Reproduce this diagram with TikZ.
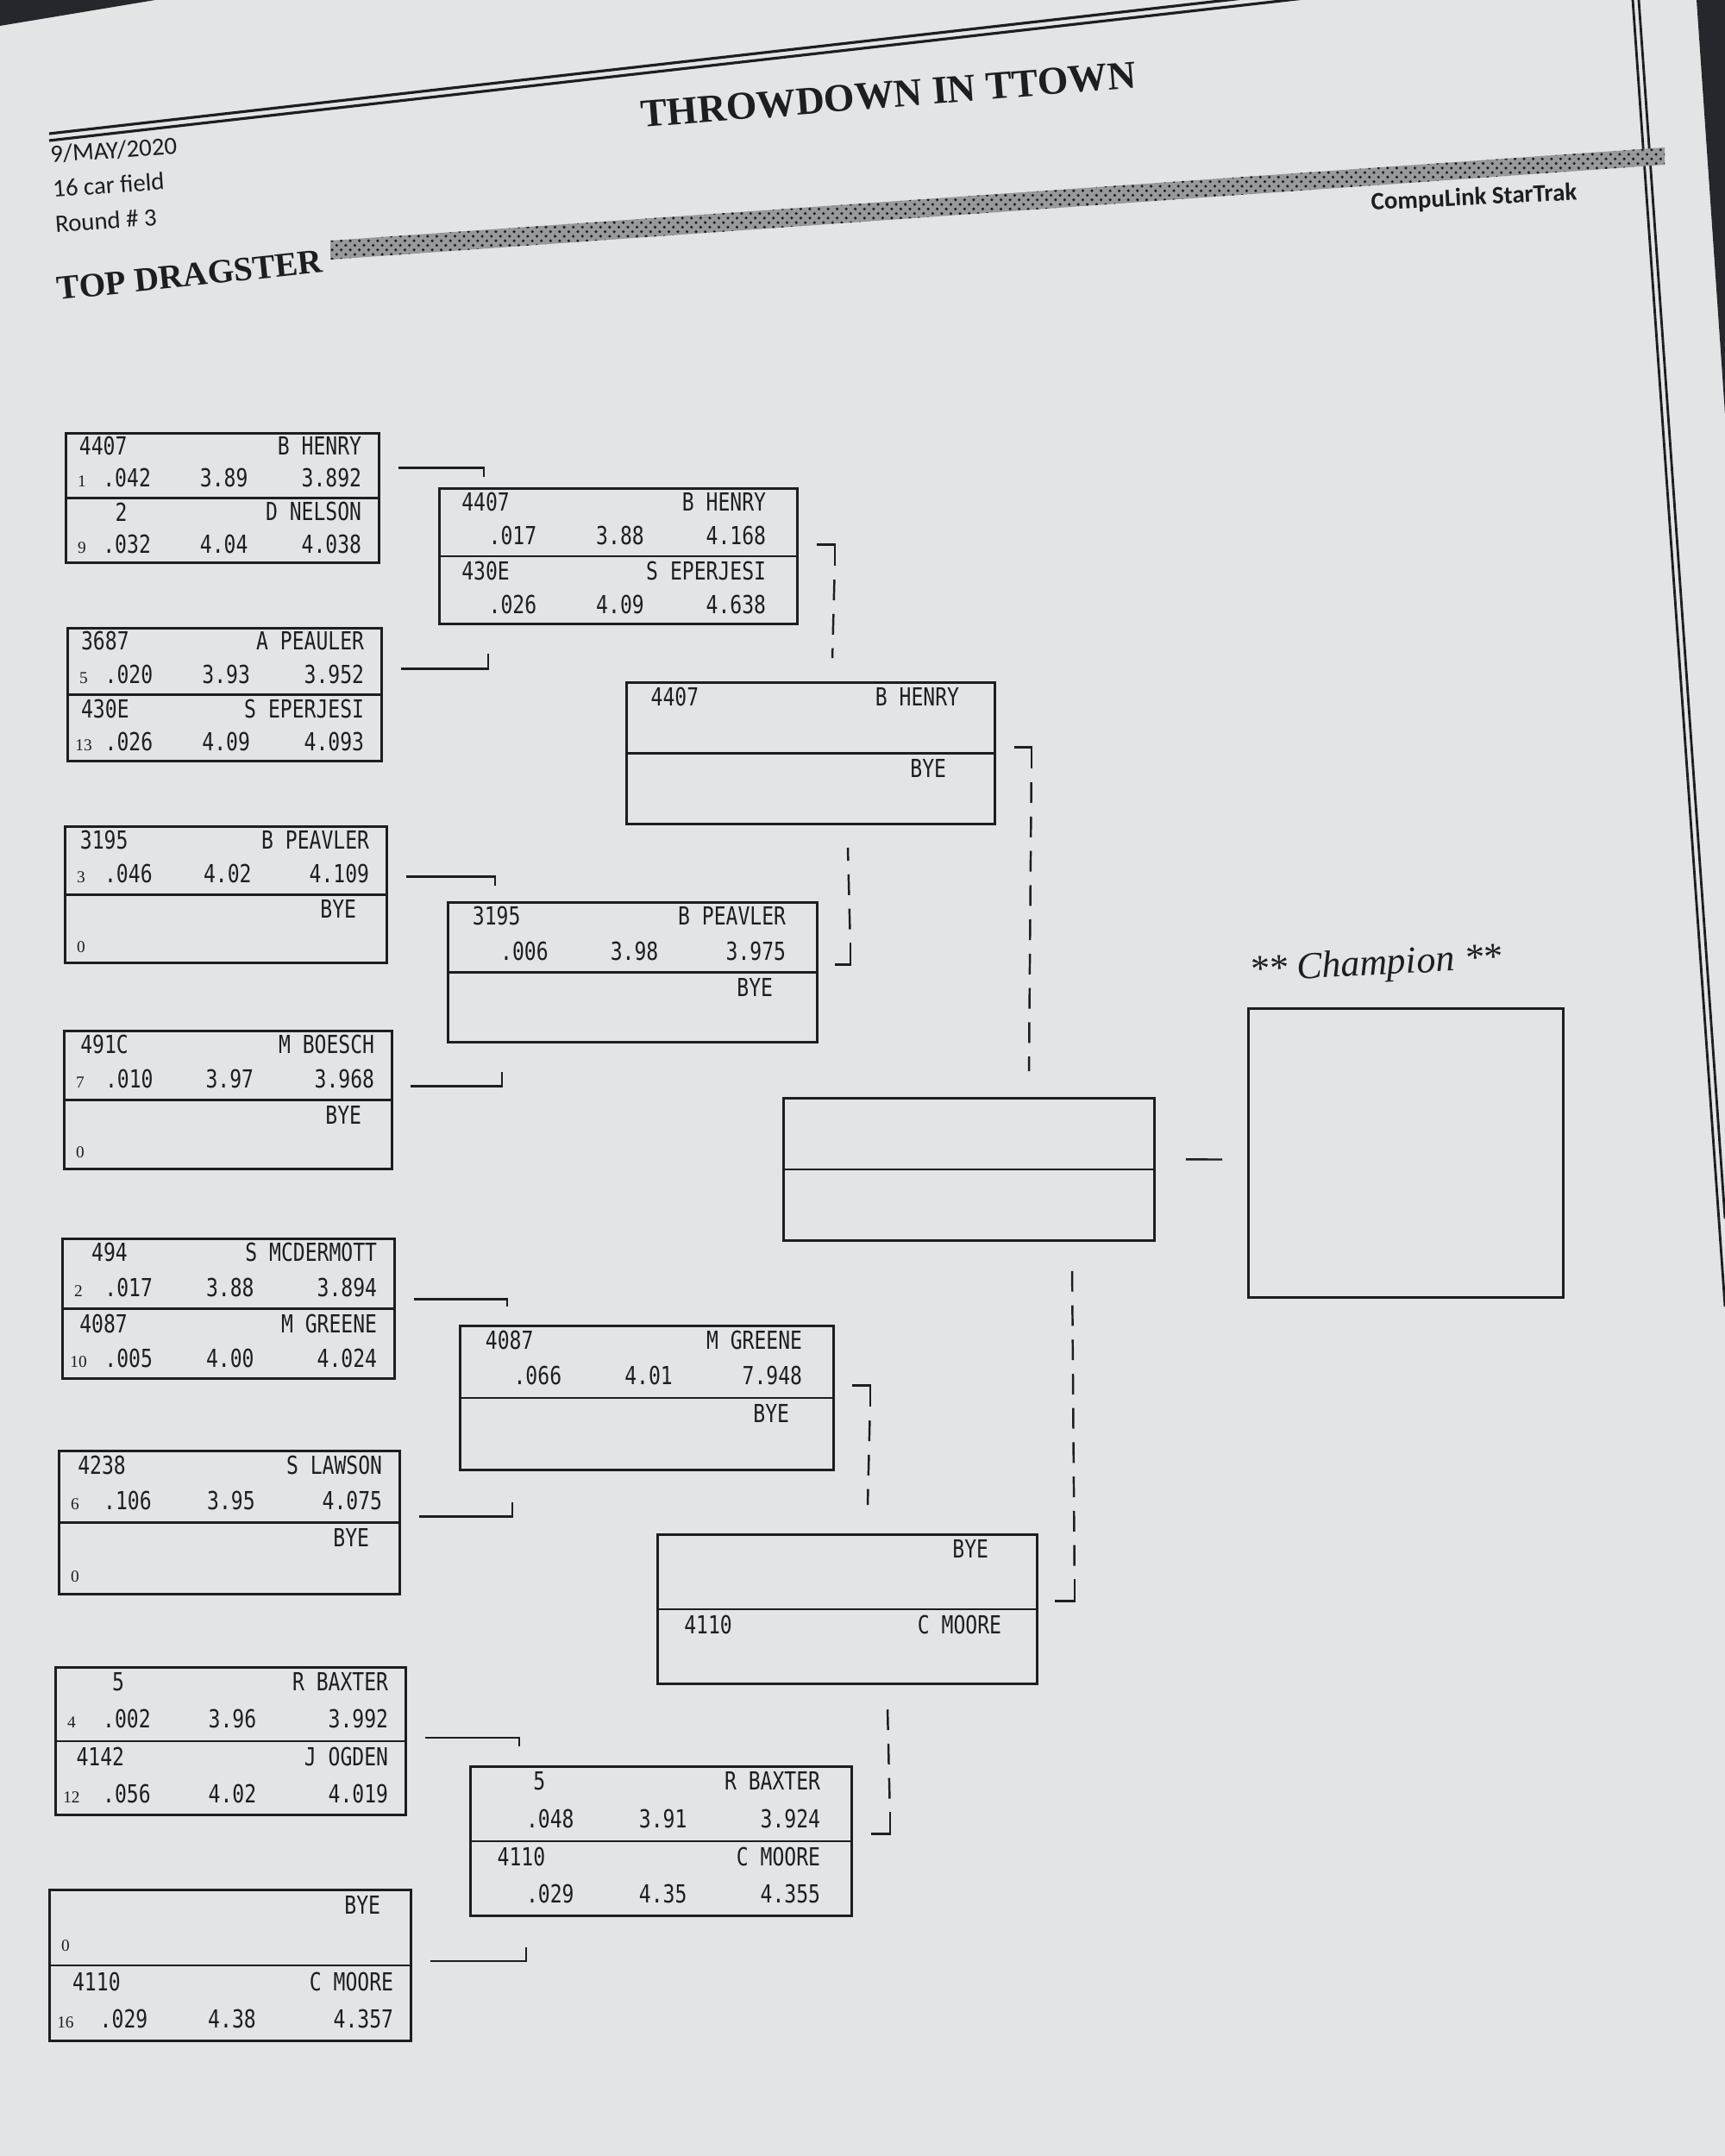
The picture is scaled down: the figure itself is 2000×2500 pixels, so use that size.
\documentclass[tikz,border=0pt]{standalone}
\usepackage{fontspec}
\usepackage{xcolor}
\usepackage{tikz}
\usetikzlibrary{calc,patterns}
\newfontfamily\plotfont{DejaVu Sans Mono}[FakeStretch=0.8]
\newfontfamily\sheetserif{Liberation Serif}
\newfontfamily\sheetsans{Carlito}
\definecolor{paper}{RGB}{225,229,230}
\definecolor{ink}{RGB}{28,30,33}
\definecolor{shadow}{RGB}{36,40,44}
\definecolor{halftone}{RGB}{150,154,156}
\tikzset{
  box/.style      = {draw=ink, line width=0.8pt, inner sep=0pt},
  midrule/.style  = {draw=ink, line width=0.8pt},
  cell/.style     = {inner sep=0pt, text=ink, font=\plotfont\fontsize{8.2}{9}\selectfont},
  seed/.style     = {inner sep=0pt, text=ink, font=\sheetserif\fontsize{5.5}{6}\selectfont},
  link/.style     = {draw=ink, line width=0.7pt},
  dashlink/.style = {link, dash pattern=on 6.8pt off 4.5pt, dash phase=6.8pt},
  heading/.style  = {inner sep=0pt, text=ink, font=\sheetserif\bfseries\fontsize{13}{15}\selectfont},
  info/.style     = {inner sep=0pt, text=ink, font=\sheetsans\fontsize{8.2}{11.5}\selectfont},
}
% one pairing box: name, left, top, width, height (pixels of the sheet)
\newcommand{\racebox}[5]{%
  \node[box, anchor=north west, minimum width=#4*0.01cm, minimum height=#5*0.01cm] (#1) at (#2,#3) {};
  \draw[midrule] (#1.west) -- (#1.east);
}
% the two text lines of one half (1 = upper, 2 = lower)
\newcommand{\lanepoints}[2]{%
  \ifnum#2=1
    \def\laneTL{north west}\def\laneBL{west}\def\laneTR{north east}\def\laneBR{east}%
  \else
    \def\laneTL{west}\def\laneBL{south west}\def\laneTR{east}\def\laneBR{south east}%
  \fi
  \coordinate (#1-#2p) at ($(#1.\laneTL)!0.21!(#1.\laneBL)$);
  \coordinate (#1-#2q) at ($(#1.\laneTR)!0.21!(#1.\laneBR)$);
  \coordinate (#1-#2r) at ($(#1.\laneTL)!0.70!(#1.\laneBL)$);
  \coordinate (#1-#2s) at ($(#1.\laneTR)!0.70!(#1.\laneBR)$);
}
% box, half, car, driver, seed, reaction, dial-in, elapsed
\newcommand{\lane}[8]{%
  \lanepoints{#1}{#2}
  \node[cell, anchor=east] (#1-#2car) at ($(#1-#2p)!0.2!(#1-#2q)$) {#3};
  \node[cell, anchor=east] (#1-#2drv) at ($(#1-#2q)+(-\rightpad,0)$) {#4};
  \node[seed] (#1-#2seed) at ($(#1-#2r)+(20,4)$) {#5};
  \node[cell, anchor=east] (#1-#2rt) at ($(#1-#2r)!0.275!(#1-#2s)$) {#6};
  \node[cell] (#1-#2et) at ($(#1-#2r)!0.505!(#1-#2s)$) {#7};
  \node[cell, anchor=east] (#1-#2mph) at ($(#1-#2s)+(-\rightpad,0)$) {#8};
}
% box, half, seed
\newcommand{\byelane}[3]{%
  \lanepoints{#1}{#2}
  \node[cell, anchor=east] (#1-#2drv) at ($(#1-#2q)+(-\rightpad-15,0)$) {BYE};
  \node[seed] (#1-#2seed) at ($(#1-#2r)+(20,4)$) {#3};
}

\begin{document}
\begin{tikzpicture}[x=0.01cm, y=-0.01cm]
\useasboundingbox (0,0) rectangle (2000,2500);
\clip (0,0) rectangle (2000,2500);
\fill[paper] (0,0) rectangle (2000,2500);
% photo corners and the sheet edge
\fill[shadow] (0,0) -- (180,0) -- (0,30) -- cycle;
\fill[shadow] (1967,0) -- (2000,0) -- (2000,480) -- cycle;
\draw[ink, line width=0.8pt] (1893,0) -- (2000,1515);
\draw[ink, line width=0.8pt] (1900,0) -- (2000,1413);

% header
\draw[ink, line width=0.9pt] (57,155) -- (1600,-20);
\draw[ink, line width=0.9pt] (57,163) -- (1600,-12);
\node[heading, rotate=4.6] (title) at (1030,110) {THROWDOWN IN TTOWN};
\node[info, align=left, anchor=north west, rotate=4] (details) at (57,168)
  {9/MAY/2020\\16 car field\\Round \# 3};
\node[heading, font=\sheetserif\bfseries\fontsize{11.2}{13}\selectfont, anchor=base west, rotate=6]
  (class) at (67,348) {TOP DRAGSTER};
\fill[halftone] (383,279) -- (1930,171) -- (1930,191) -- (383,301) -- cycle;
\fill[pattern=crosshatch dots, pattern color=ink] (383,279) -- (1930,171) -- (1930,191) -- (383,301) -- cycle;
\node[info, font=\sheetsans\bfseries\fontsize{8.2}{10}\selectfont, rotate=2.8] (brand) at (1709,230) {CompuLink StarTrak};

% first round
\def\rightpad{21}
\racebox{A}{75}{501}{363}{150}
\lane{A}{1}{4407}{B HENRY}{1}{.042}{3.89}{3.892}
\lane{A}{2}{2}{D NELSON}{9}{.032}{4.04}{4.038}
\racebox{B}{77}{727}{364}{154}
\lane{B}{1}{3687}{A PEAULER}{5}{.020}{3.93}{3.952}
\lane{B}{2}{430E}{S EPERJESI}{13}{.026}{4.09}{4.093}
\racebox{C}{74}{957}{373}{158}
\lane{C}{1}{3195}{B PEAVLER}{3}{.046}{4.02}{4.109}
\byelane{C}{2}{0}
\racebox{D}{73}{1194}{380}{160}
\lane{D}{1}{491C}{M BOESCH}{7}{.010}{3.97}{3.968}
\byelane{D}{2}{0}
\racebox{E}{71}{1435}{385}{162}
\lane{E}{1}{494}{S MCDERMOTT}{2}{.017}{3.88}{3.894}
\lane{E}{2}{4087}{M GREENE}{10}{.005}{4.00}{4.024}
\racebox{F}{67}{1681}{395}{166}
\lane{F}{1}{4238}{S LAWSON}{6}{.106}{3.95}{4.075}
\byelane{F}{2}{0}
\racebox{G}{63}{1932}{406}{171}
\lane{G}{1}{5}{R BAXTER}{4}{.002}{3.96}{3.992}
\lane{G}{2}{4142}{J OGDEN}{12}{.056}{4.02}{4.019}
\racebox{H}{56}{2190}{419}{175}
\byelane{H}{1}{0}
\lane{H}{2}{4110}{C MOORE}{16}{.029}{4.38}{4.357}

% second round
\def\rightpad{37}
\racebox{R2a}{508}{565}{415}{157}
\lane{R2a}{1}{4407}{B HENRY}{}{.017}{3.88}{4.168}
\lane{R2a}{2}{430E}{S EPERJESI}{}{.026}{4.09}{4.638}
\racebox{R2b}{518}{1045}{428}{162}
\lane{R2b}{1}{3195}{B PEAVLER}{}{.006}{3.98}{3.975}
\byelane{R2b}{2}{}
\racebox{R2c}{532}{1536}{433}{167}
\lane{R2c}{1}{4087}{M GREENE}{}{.066}{4.01}{7.948}
\byelane{R2c}{2}{}
\racebox{R2d}{544}{2047}{442}{173}
\lane{R2d}{1}{5}{R BAXTER}{}{.048}{3.91}{3.924}
\lane{R2d}{2}{4110}{C MOORE}{}{.029}{4.35}{4.355}

% third round and final
\def\rightpad{42}
\racebox{R3a}{725}{790}{427}{164}
\lane{R3a}{1}{4407}{B HENRY}{}{}{}{}
\byelane{R3a}{2}{}
\racebox{R3b}{761}{1778}{440}{173}
\byelane{R3b}{1}{}
\lane{R3b}{2}{4110}{C MOORE}{}{}{}{}
\racebox{final}{907}{1272}{430}{165}
\node[box, anchor=north west, minimum width=3.65cm, minimum height=3.35cm] (champ) at (1446,1168) {};
\node[heading, font=\sheetserif\itshape\fontsize{12.5}{14}\selectfont, rotate=3] (champlabel) at (1595,1120) {** Champion **};

% brackets: first round into second round
\coordinate (jA) at (561,553);
\coordinate (jB) at (566,758);
\coordinate (jC) at (574,1027);
\coordinate (jD) at (582,1243);
\coordinate (jE) at (588,1515);
\coordinate (jF) at (594,1742);
\coordinate (jG) at (602,2025);
\coordinate (jH) at (610,2258);
\draw[link] ($(A.east)+(21,-35)$) -| (jA);
\draw[link] ($(B.east)+(21,-30)$) -| (jB);
\draw[link] ($(C.east)+(21,-21)$) -| (jC);
\draw[link] ($(D.east)+(20,-16)$) -| (jD);
\draw[link] ($(E.east)+(21,-11)$) -| (jE);
\draw[link] ($(F.east)+(21,-7)$) -| (jF);
\draw[link] ($(G.east)+(21,-4)$) -| (jG);
\draw[link] ($(H.east)+(21,-5)$) -| (jH);

% later rounds: short hook, then dashed drop
\coordinate (kA) at (965,763);
\coordinate (kB) at (983,983);
\coordinate (kC) at (1006,1745);
\coordinate (kD) at (1029,1980);
\coordinate (mA) at (1193,1242);
\coordinate (mB) at (1243,1464);
\draw[link] ($(R2a.east)+(21,-13.5)$) -- ++(21,0) -- ++(0,25) coordinate (hA);
\draw[dashlink] (hA) -- (kA);
\draw[link] ($(R2b.east)+(19,-9)$) -- ++(18,0) -- ++(0,-25) coordinate (hB);
\draw[dashlink] (hB) -- (kB);
\draw[link] ($(R2c.east)+(20,-14.5)$) -- ++(21,0) -- ++(0,25) coordinate (hC);
\draw[dashlink] (hC) -- (kC);
\draw[link] ($(R2d.east)+(21,-8.5)$) -- ++(22,0) -- ++(0,-25) coordinate (hD);
\draw[dashlink] (hD) -- (kD);
\draw[link] ($(R3a.east)+(21,-7)$) -- ++(20,0) -- ++(0,25) coordinate (gA);
\draw[dashlink] (gA) -- (mA);
\draw[link] ($(R3b.east)+(19,-9.5)$) -- ++(23,0) -- ++(0,-25) coordinate (gB);
\draw[dashlink] (gB) -- (mB);
\draw[link] ($(final.east)+(35,-11.5)$) -- ($(champ.west)+(-29,7.5)$);
\end{tikzpicture}
\end{document}
